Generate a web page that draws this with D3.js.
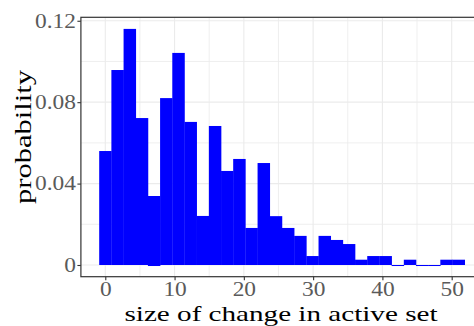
<!DOCTYPE html>
<html>
<head>
<meta charset="utf-8">
<script src="https://cdn.jsdelivr.net/npm/d3@7"></script>
<style>
html, body { margin: 0; padding: 0; background: #fff; }
svg { display: block; }
</style>
</head>
<body>
<svg id="chart" width="474" height="326"></svg>
<script>
// ---- data ----
const binCenters = [0, 1.76, 3.52, 5.28, 7.03, 8.79, 10.55, 12.31, 14.07, 15.83,
  17.59, 19.34, 21.1, 22.86, 24.62, 26.38, 28.14, 29.9, 31.66, 33.41,
  35.17, 36.93, 38.69, 40.45, 42.21, 43.97, 45.72, 47.48, 49.24, 51];
const binWidth = 1.7586;
const probability = [0.056, 0.0958, 0.116, 0.0722, 0.0339, 0.082, 0.1042, 0.0703, 0.0241, 0.0683,
  0.0462, 0.0521, 0.0182, 0.0501, 0.024, 0.0182, 0.0143, 0.0044, 0.0143, 0.0123,
  0.0103, 0.0026, 0.0044, 0.0044, -0.0005, 0.0026, -0.0005, -0.0005, 0.0026, 0.0026];
const lowerBound = [0, 0, 0, 0, -0.0005, 0, 0, 0, 0, 0,
  0, 0, 0, 0, 0, 0, 0, 0, 0, 0,
  0, 0, 0, 0, 0, 0, 0, 0, 0, 0];
const xTicks = [0, 10, 20, 30, 40, 50];
const xMinor = [5, 15, 25, 35, 45];
const yTicks = [0, 0.04, 0.08, 0.12];
const yTickLabels = ["0", "0.04", "0.08", "0.12"];
const yMinor = [0.02, 0.06, 0.10];
const xTitle = "size of change in active set";
const yTitle = "probability";

// ---- layout ----
const svg = d3.select("#chart");
const panel = {left: 80.9, right: 483, top: 17.3, bottom: 276.7};

const x = d3.scaleLinear().domain([-3.52, 54.52]).range([panel.left, panel.right]);
const y = d3.scaleLinear().domain([-0.00575, 0.1217]).range([panel.bottom, panel.top]);

const font = "'Liberation Serif', 'Times New Roman', serif";
const stretch = 1.17; // glyphs in the reference are a little wider than Liberation Serif
function widen(sel) {
  sel.each(function () {
    const len = this.getComputedTextLength();
    d3.select(this).attr("textLength", len * stretch).attr("lengthAdjust", "spacingAndGlyphs");
  });
}

const grid = svg.append("g");
svg.append("clipPath").attr("id", "pc").append("rect")
  .attr("x", panel.left).attr("y", panel.top)
  .attr("width", panel.right - panel.left).attr("height", panel.bottom - panel.top);

// minor grid
grid.selectAll("line.xm").data(xMinor).join("line")
  .attr("x1", d => x(d)).attr("x2", d => x(d))
  .attr("y1", panel.top).attr("y2", panel.bottom)
  .attr("stroke", "#ebebeb").attr("stroke-width", 0.8);
grid.selectAll("line.ym").data(yMinor).join("line")
  .attr("y1", d => y(d)).attr("y2", d => y(d))
  .attr("x1", panel.left).attr("x2", panel.right)
  .attr("stroke", "#ebebeb").attr("stroke-width", 0.8);
// major grid
grid.selectAll("line.xM").data(xTicks).join("line")
  .attr("x1", d => x(d)).attr("x2", d => x(d))
  .attr("y1", panel.top).attr("y2", panel.bottom)
  .attr("stroke", "#ebebeb").attr("stroke-width", 1.1);
grid.selectAll("line.yM").data(yTicks).join("line")
  .attr("y1", d => y(d)).attr("y2", d => y(d))
  .attr("x1", panel.left).attr("x2", panel.right)
  .attr("stroke", "#ebebeb").attr("stroke-width", 1.1);

// bars
const bars = binCenters.map((c, i) => ({
  x0: c - binWidth / 2, x1: c + binWidth / 2,
  lo: Math.min(lowerBound[i], probability[i], 0),
  hi: Math.max(probability[i], 0)
}));
svg.append("g").attr("clip-path", "url(#pc)")
  .selectAll("rect").data(bars).join("rect")
  .attr("x", d => x(d.x0))
  .attr("width", d => x(d.x1) - x(d.x0) + 0.3)
  .attr("y", d => y(d.hi))
  .attr("height", d => Math.max(y(d.lo) - y(d.hi), 1))
  .attr("fill", "#0000ff");

// panel border
svg.append("rect")
  .attr("x", panel.left).attr("y", panel.top)
  .attr("width", panel.right - panel.left).attr("height", panel.bottom - panel.top)
  .attr("fill", "none").attr("stroke", "#333333").attr("stroke-width", 1.2);

// x axis
const xAxis = d3.axisBottom(x).tickValues(xTicks).tickSize(3.5).tickPadding(2)
  .tickFormat(d3.format("d"));
const gx = svg.append("g").attr("transform", `translate(0,${panel.bottom})`).call(xAxis);
gx.select(".domain").remove();
gx.selectAll(".tick line").attr("stroke", "#333333").attr("stroke-width", 1.1);
gx.selectAll(".tick text").attr("fill", "#5a5a5a")
  .style("font-family", font).style("font-size", "20px").call(widen);

// y axis
const yAxis = d3.axisLeft(y).tickValues(yTicks).tickSize(3.5).tickPadding(1.5)
  .tickFormat((d, i) => yTickLabels[i]);
const gy = svg.append("g").attr("transform", `translate(${panel.left},0)`).call(yAxis);
gy.select(".domain").remove();
gy.selectAll(".tick line").attr("stroke", "#333333").attr("stroke-width", 1.1);
gy.selectAll(".tick text").attr("fill", "#5a5a5a")
  .style("font-family", font).style("font-size", "20px").call(widen);

// titles
svg.append("text")
  .attr("x", 281).attr("y", 321)
  .attr("text-anchor", "middle")
  .style("font-family", font).style("font-size", "22px").attr("fill", "#000")
  .text(xTitle)
  .attr("textLength", 313).attr("lengthAdjust", "spacingAndGlyphs");
svg.append("text")
  .attr("transform", "translate(31,137) rotate(-90)")
  .attr("text-anchor", "middle")
  .style("font-family", font).style("font-size", "24px").attr("fill", "#000")
  .text(yTitle)
  .attr("textLength", 134).attr("lengthAdjust", "spacingAndGlyphs");
</script>
</body>
</html>
